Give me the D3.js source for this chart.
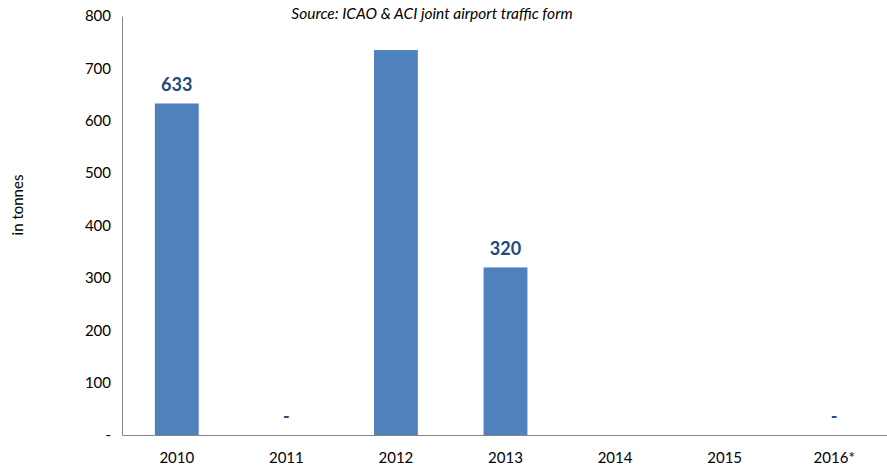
<!DOCTYPE html>
<meta charset="utf-8">
<style>
body { margin: 0; background: #fff; }
* { font-family: Lato, "Open Sans", sans-serif; }
</style>
<body>
<script src="https://cdn.jsdelivr.net/npm/d3@7"></script>
<script>

var years = ["2010", "2011", "2012", "2013", "2014", "2015", "2016*"];
var tonnes = [633, 0, 735, 320, null, null, 0];
var barLabels = ["633", "-", "", "320", "", "", "-"];
var yTicks = [0, 100, 200, 300, 400, 500, 600, 700, 800];

var width = 887, height = 468;
var margin = {top: 16, right: -2, bottom: 33, left: 122};

var svg = d3.select("body").append("svg")
    .attr("width", width)
    .attr("height", height);

var x = d3.scaleBand()
    .domain(years)
    .range([margin.left, width - margin.right])
    .paddingInner(0.6)
    .paddingOuter(0.3);

var y = d3.scaleLinear()
    .domain([0, 800])
    .range([height - margin.bottom, margin.top]);

// bars
svg.selectAll("rect.bar")
    .data(years.map(function(d, i) { return {year: d, v: tonnes[i]}; })
      .filter(function(d) { return d.v; }))
  .enter().append("rect")
    .attr("class", "bar")
    .attr("x", function(d) { return x(d.year); })
    .attr("width", x.bandwidth())
    .attr("y", function(d) { return y(d.v); })
    .attr("height", function(d) { return y(0) - y(d.v); })
    .attr("fill", "#4f81bd");

// value labels
svg.selectAll("text.lab")
    .data(years.map(function(d, i) { return {year: d, v: tonnes[i] || 0, t: barLabels[i]}; }))
  .enter().append("text")
    .attr("class", "lab")
    .attr("x", function(d) { return x(d.year) + x.bandwidth() / 2; })
    .attr("y", function(d) { return y(d.v) - 12; })
    .attr("text-anchor", "middle")
    .attr("font-size", "18px")
    .attr("font-weight", "bold")
    .attr("fill", "#1f497d")
    .text(function(d) { return d.t; });

// y axis
var yAxis = svg.append("g")
    .attr("transform", "translate(" + margin.left + ",0)")
    .call(d3.axisLeft(y).tickValues(yTicks).tickSize(0).tickPadding(11)
      .tickFormat(function(d) { return d === 0 ? "-" : d; }));
yAxis.select(".domain").attr("stroke", "#868686");
yAxis.selectAll("text").attr("font-size", "15px").attr("fill", "#000");

// x axis
var xAxis = svg.append("g")
    .attr("transform", "translate(0," + y(0) + ")")
    .call(d3.axisBottom(x).tickSize(0).tickPadding(17));
xAxis.select(".domain").attr("stroke", "#868686");
xAxis.selectAll("text").attr("font-size", "15px").attr("fill", "#000");

svg.append("text")
    .attr("transform", "translate(23," + 205 + ")rotate(-90)")
    .attr("text-anchor", "middle")
    .attr("font-size", "15px")
    .text("in tonnes");

svg.append("text")
    .attr("x", 432)
    .attr("y", 19)
    .attr("text-anchor", "middle")
    .attr("font-size", "15.5px")
    .attr("font-style", "italic")
    .text("Source: ICAO & ACI joint airport traffic form");
</script>
</body>
</html>
